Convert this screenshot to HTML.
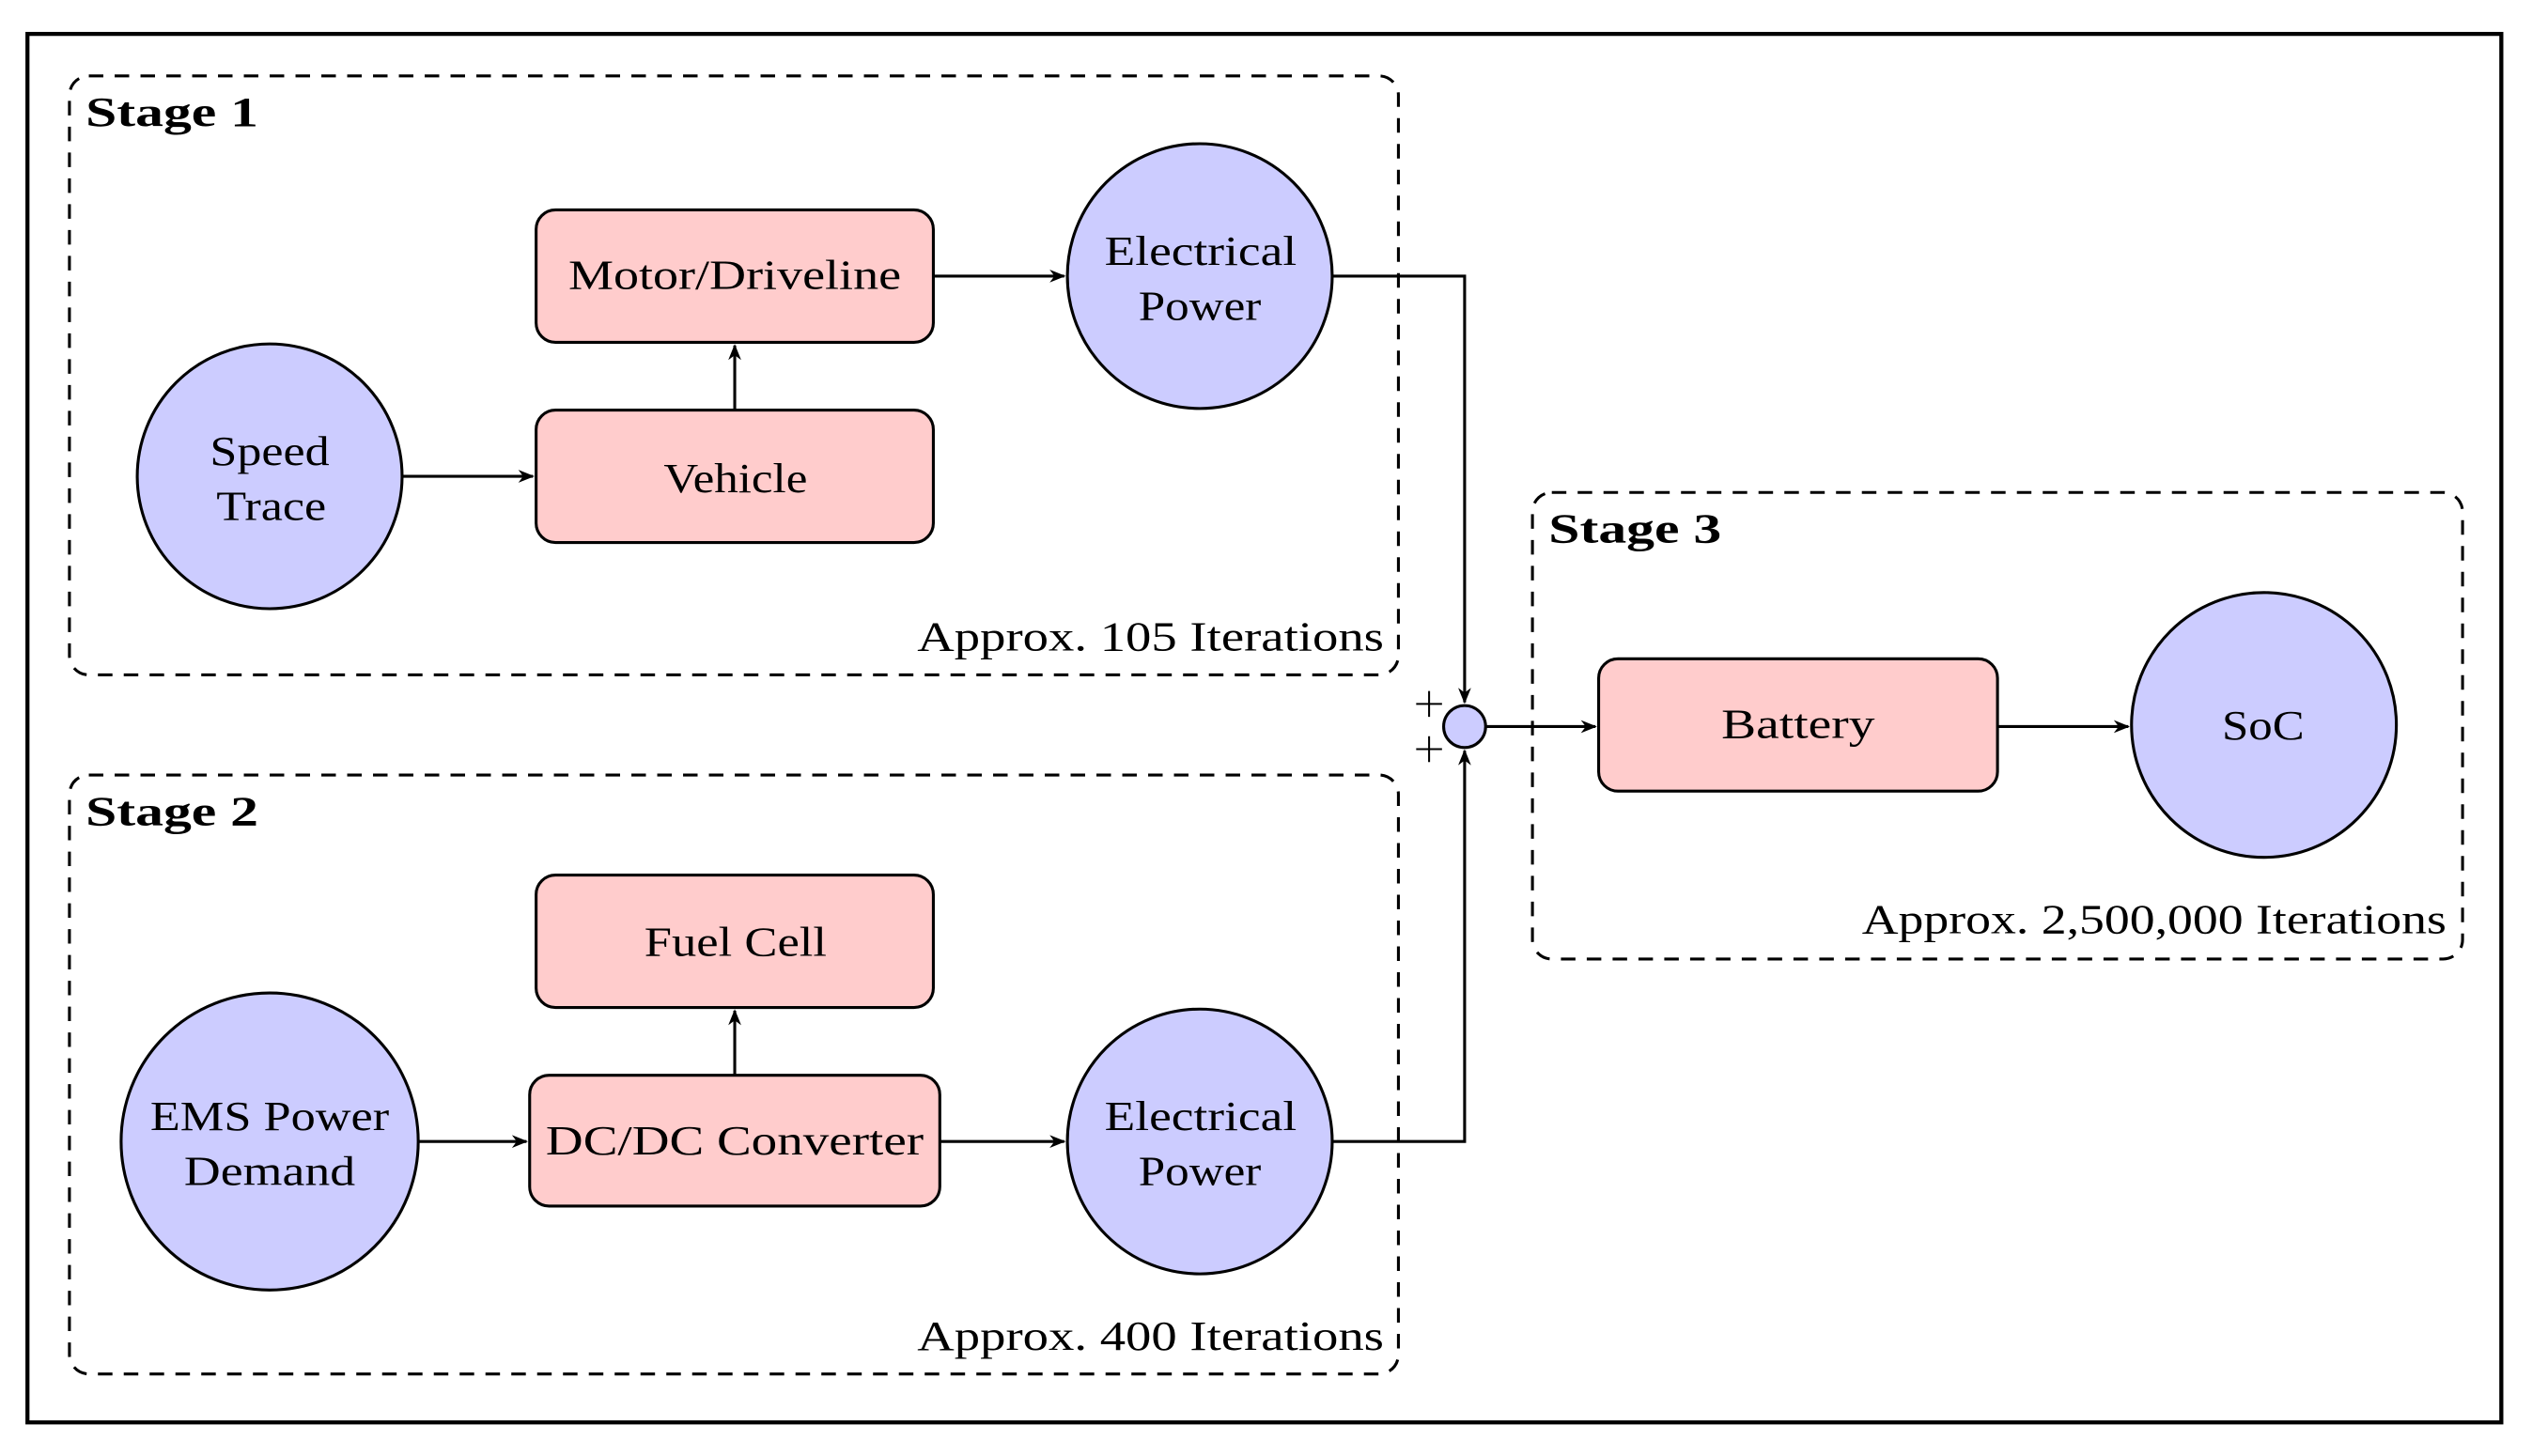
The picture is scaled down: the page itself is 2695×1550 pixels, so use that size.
<!DOCTYPE html>
<html><head><meta charset="utf-8"><style>
html,body{margin:0;padding:0;background:#fff;}
svg{display:block;}
text{font-family:"Liberation Serif",serif;font-size:26px;fill:#000;}
.b{font-weight:bold;}
</style></head><body>
<svg width="2695" height="1550" viewBox="0 0 1568 901.8" xmlns="http://www.w3.org/2000/svg">
<defs>
<marker id="a" markerWidth="10" markerHeight="8" refX="9" refY="4" orient="auto" markerUnits="userSpaceOnUse">
<path d="M0,0 L10,4 L0,8 L3,4 Z" fill="#000"/>
</marker>
</defs>
<rect x="17" y="21" width="1532" height="860" fill="none" stroke="#000" stroke-width="2.5"/>
<g fill="none" stroke="#000" stroke-width="1.8" stroke-dasharray="9,7">
<rect x="43" y="47" width="823" height="371" rx="12"/>
<rect x="43" y="480" width="823" height="371" rx="12"/>
<rect x="949" y="305" width="576" height="289" rx="12"/>
</g>
<g lengthAdjust="spacingAndGlyphs">
<text class="b" x="53" y="78" textLength="107" lengthAdjust="spacingAndGlyphs">Stage 1</text>
<text class="b" x="53" y="511" textLength="107" lengthAdjust="spacingAndGlyphs">Stage 2</text>
<text class="b" x="959" y="336" textLength="107" lengthAdjust="spacingAndGlyphs">Stage 3</text>
<text x="568" y="403" textLength="289" lengthAdjust="spacingAndGlyphs">Approx. 105 Iterations</text>
<text x="568" y="836" textLength="289" lengthAdjust="spacingAndGlyphs">Approx. 400 Iterations</text>
<text x="1153" y="578" textLength="362" lengthAdjust="spacingAndGlyphs">Approx. 2,500,000 Iterations</text>
</g>
<g stroke="#000" stroke-width="1.8" fill="none" marker-end="url(#a)">
<line x1="249" y1="295" x2="330" y2="295"/>
<line x1="455" y1="254" x2="455" y2="214"/>
<line x1="578" y1="171" x2="659" y2="171"/>
<polyline points="825,171 907,171 907,435"/>
<line x1="259" y1="707" x2="326" y2="707"/>
<line x1="455" y1="666" x2="455" y2="626"/>
<line x1="582" y1="707" x2="659" y2="707"/>
<polyline points="825,707 907,707 907,465"/>
<line x1="920" y1="450" x2="988" y2="450"/>
<line x1="1237" y1="450" x2="1318" y2="450"/>
</g>
<g stroke="#000" stroke-width="1.8" fill="#ffcccc">
<rect x="332" y="130" width="246" height="82" rx="12"/>
<rect x="332" y="254" width="246" height="82" rx="12"/>
<rect x="332" y="542" width="246" height="82" rx="12"/>
<rect x="328" y="666" width="254" height="81" rx="12"/>
<rect x="990" y="408" width="247" height="82" rx="12"/>
</g>
<g stroke="#000" stroke-width="1.8" fill="#ccccff">
<circle cx="167" cy="295" r="82"/>
<circle cx="743" cy="171" r="82"/>
<circle cx="167" cy="707" r="92"/>
<circle cx="743" cy="707" r="82"/>
<circle cx="1402" cy="449" r="82"/>
<circle cx="907" cy="450" r="13"/>
</g>
<g>
<text x="352" y="179" textLength="206" lengthAdjust="spacingAndGlyphs">Motor/Driveline</text>
<text x="411" y="305" textLength="89" lengthAdjust="spacingAndGlyphs">Vehicle</text>
<text x="399" y="592" textLength="113" lengthAdjust="spacingAndGlyphs">Fuel Cell</text>
<text x="338" y="715" textLength="234" lengthAdjust="spacingAndGlyphs">DC/DC Converter</text>
<text x="1066" y="457" textLength="95" lengthAdjust="spacingAndGlyphs">Battery</text>
<text x="130" y="288" textLength="74" lengthAdjust="spacingAndGlyphs">Speed</text>
<text x="134" y="322" textLength="68" lengthAdjust="spacingAndGlyphs">Trace</text>
<text x="684" y="164" textLength="119" lengthAdjust="spacingAndGlyphs">Electrical</text>
<text x="705" y="198" textLength="76" lengthAdjust="spacingAndGlyphs">Power</text>
<text x="93" y="700" textLength="148" lengthAdjust="spacingAndGlyphs">EMS Power</text>
<text x="114" y="734" textLength="106" lengthAdjust="spacingAndGlyphs">Demand</text>
<text x="684" y="700" textLength="119" lengthAdjust="spacingAndGlyphs">Electrical</text>
<text x="705" y="734" textLength="76" lengthAdjust="spacingAndGlyphs">Power</text>
<text x="1376" y="458" textLength="51" lengthAdjust="spacingAndGlyphs">SoC</text>
</g>
<g stroke="#000" stroke-width="1.2">
<line x1="877" y1="436" x2="893" y2="436"/><line x1="885" y1="428" x2="885" y2="444"/>
<line x1="877" y1="464" x2="893" y2="464"/><line x1="885" y1="456" x2="885" y2="472"/>
</g>
</svg>
</body></html>
